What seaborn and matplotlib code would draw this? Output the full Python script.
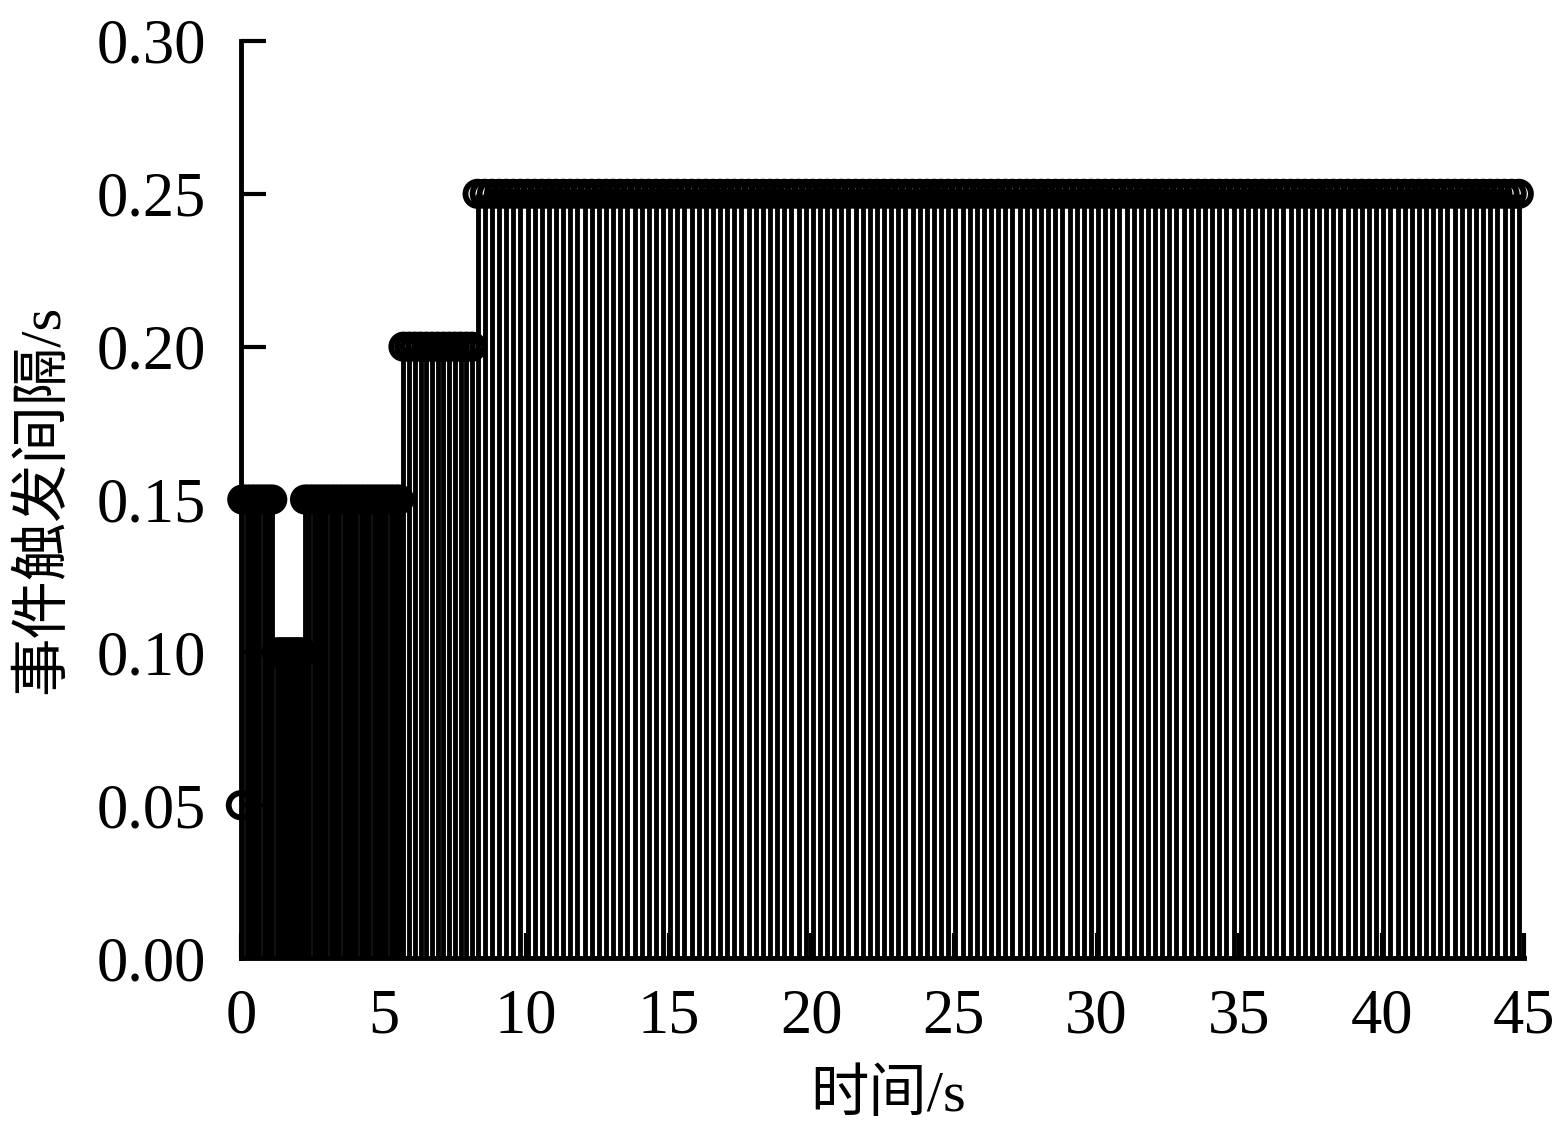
import numpy as np
import pandas as pd
import matplotlib
matplotlib.use("Agg")
import matplotlib.pyplot as plt
from matplotlib.ticker import FormatStrFormatter
import seaborn as sns

# ---- data ----
# runs of event-trigger intervals (s) and how many events each run contains
run_intervals = [0.05, 0.15, 0.10, 0.15, 0.20, 0.25]
run_counts = [1, 8, 10, 23, 13, 147]
x_ticks = [0, 5, 10, 15, 20, 25, 30, 35, 40, 45]
y_ticks = [0.00, 0.05, 0.10, 0.15, 0.20, 0.25, 0.30]
x_label = "时间/s"
y_label = "事件触发间隔/s"

# event intervals and event instants (t_{k+1} = t_k + h_k)
h = np.repeat(run_intervals, run_counts)
t = np.concatenate([[0.0], np.cumsum(h)[:-1]])
df = pd.DataFrame({"t": t, "h": h})

sns.set_style("ticks")
plt.rcParams["font.family"] = ["Liberation Serif", "Noto Sans CJK SC"]
plt.rcParams["axes.unicode_minus"] = False

fig = plt.figure(figsize=(15.54, 11.29), dpi=100)
ax = fig.add_axes([0.155, 0.1514, 0.826, 0.8123])

# stems
ax.vlines(df["t"], 0, df["h"], colors="black", linewidth=3.5, zorder=2)
# open circle markers
sns.scatterplot(data=df, x="t", y="h", ax=ax, marker="o", s=17.5 ** 2,
                fc="none", ec="black", linewidth=4.2, zorder=3,
                clip_on=False, legend=False)

ax.set_xlim(0, 45)
ax.set_ylim(0, 0.30)
ax.set_xticks(x_ticks)
ax.set_yticks(y_ticks)
ax.yaxis.set_major_formatter(FormatStrFormatter("%.2f"))

for side in ["top", "right"]:
    ax.spines[side].set_visible(False)
for side in ["left", "bottom"]:
    ax.spines[side].set_linewidth(3.5)
    ax.spines[side].set_color("black")
    ax.spines[side].set_zorder(4)

ax.tick_params(axis="both", direction="in", length=18, width=3.0,
               color="black", labelsize=45, labelcolor="black")
ax.tick_params(axis="y", pad=25)
ax.tick_params(axis="x", pad=22)

ax.set_xlabel(x_label, fontsize=42, color="black")
ax.set_ylabel(y_label, fontsize=42, color="black")
ax.xaxis.set_label_coords(0.504, -0.121)
ax.yaxis.set_label_coords(-0.133, 0.5)

fig.savefig("out.png", dpi=100, facecolor="white")
